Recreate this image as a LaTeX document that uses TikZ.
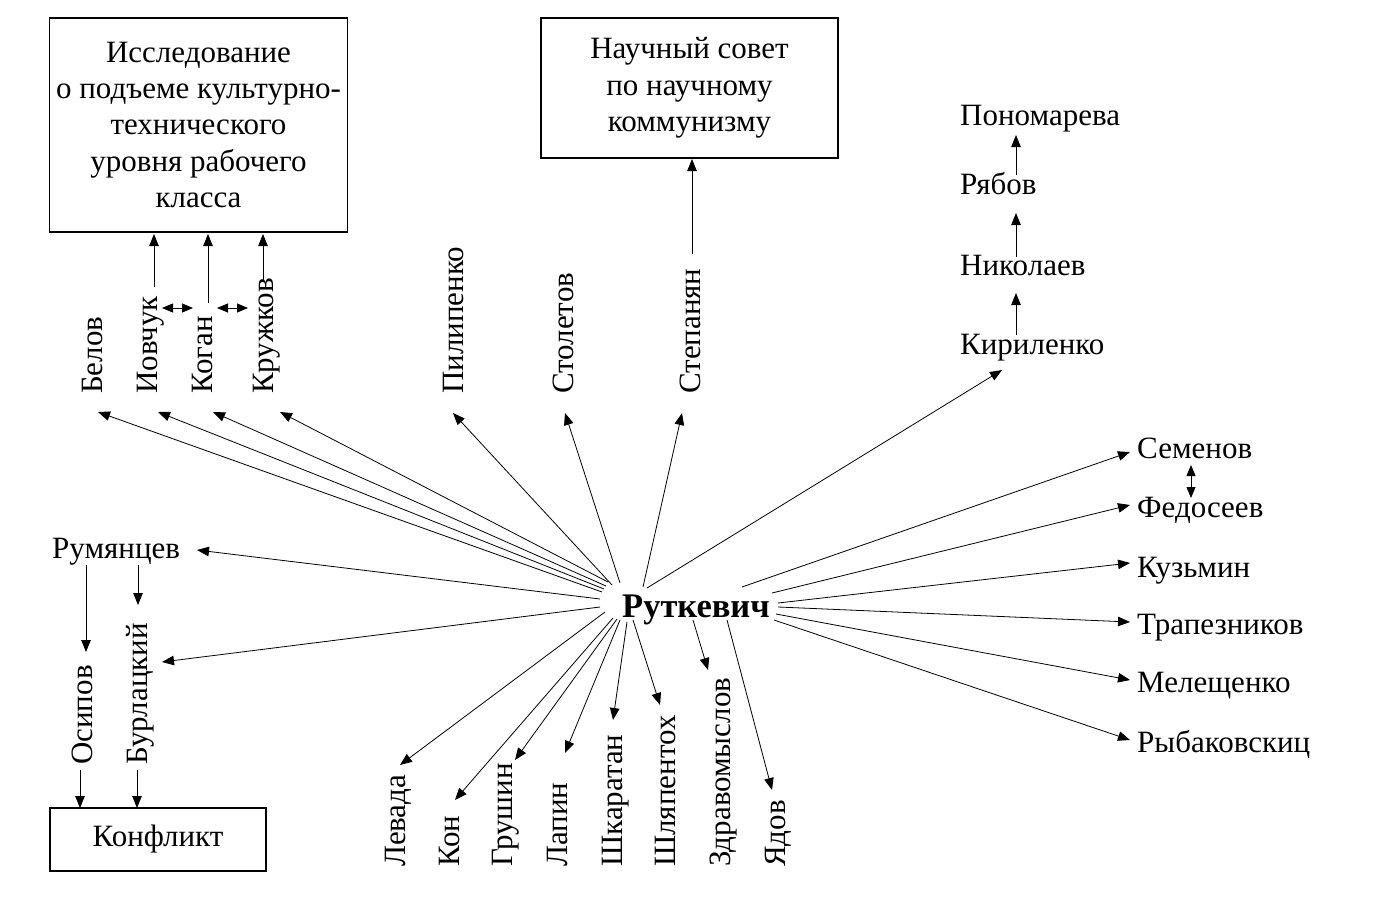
\documentclass[tikz,border=0pt]{standalone}
\usepackage{fontspec}
\setmainfont{Liberation Serif}
\usetikzlibrary{arrows.meta}
\newcommand\fs{\fontsize{31}{36.3}\selectfont}
\newcommand\fb{\fontsize{34.5}{40}\selectfont\bfseries}
\begin{document}
\begin{tikzpicture}[x=1pt,y=-1pt,
  box/.style={draw,line width=1.1pt,align=center,font=\fs,inner sep=0pt},
  lbl/.style={inner sep=0pt,font=\fs,anchor=base west},
  vlbl/.style={lbl,rotate=90},
  arr/.style={line width=0.8pt,-{Triangle[length=12pt,width=9.5pt]}},
  darr/.style={line width=0.8pt,{Triangle[length=11pt,width=9pt]}-{Triangle[length=11pt,width=9pt]}}]
\useasboundingbox (0,0) rectangle (1381,907);
\fill[white] (0,0) rectangle (1381,907);
% boxes
\node[box,minimum width=298pt,minimum height=214pt] (b1) at (198.5,125) {Исследование\\о подъеме культурно-\\технического\\уровня рабочего\\класса};
\node[box,minimum width=297pt,minimum height=140pt] (b2) at (689.5,88) {Научный совет\\по научному\\коммунизму};
\node[box,minimum width=216pt,minimum height=63pt] (b3) at (158,839.5) {Конфликт};
% center
\node[inner sep=0pt,font=\fb,anchor=base west] (rut) at (622,617) {Руткевич};
% horizontal labels
\node[lbl] (rum) at (52,558) {Румянцев};
\node[lbl] (sem) at (1137,458) {Семенов};
\node[lbl] (fed) at (1137,517) {Федосеев};
\node[lbl] (kuz) at (1137,577) {Кузьмин};
\node[lbl] (tra) at (1137,634) {Трапезников};
\node[lbl] (mel) at (1137,692) {Мелещенко};
\node[lbl] (ryb) at (1137,752) {Рыбаковскиц};
\node[lbl] (pon) at (960,125) {Пономарева};
\node[lbl] (rya) at (960,194) {Рябов};
\node[lbl] (nik) at (960,275) {Николаев};
\node[lbl] (kir) at (960,354) {Кириленко};
% rotated labels top
\node[vlbl] (bel) at (102,394) {Белов};
\node[vlbl] (iov) at (157,394) {Иовчук};
\node[vlbl] (kog) at (212,394) {Коган};
\node[vlbl] (kru) at (273,394) {Кружков};
\node[vlbl] (pil) at (463,394) {Пилипенко};
\node[vlbl] (sto) at (573,394) {Столетов};
\node[vlbl] (ste) at (700,394) {Степанян};
% rotated labels left
\node[vlbl] (osi) at (92,765) {Осипов};
\node[vlbl] (bur) at (147,765) {Бурлацкий};
% rotated labels bottom
\node[vlbl] (lev) at (405,867) {Левада};
\node[vlbl] (kon) at (459,867) {Кон};
\node[vlbl] (gru) at (512,867) {Грушин};
\node[vlbl] (lap) at (567,867) {Лапин};
\node[vlbl] (shk) at (622,867) {Шкаратан};
\node[vlbl] (shl) at (675,867) {Шляпентох};
\node[vlbl] (zdr) at (730,867) {Здравомыслов};
\node[vlbl] (yad) at (785,867) {Ядов};
% coordinates: start points near Руткевич and tips
\coordinate (sBel) at (602,592); \coordinate (tBel) at (98,412);
\coordinate (sIov) at (604,589); \coordinate (tIov) at (158,412);
\coordinate (sKog) at (606,586); \coordinate (tKog) at (213,412);
\coordinate (sKru) at (608,582); \coordinate (tKru) at (280,412);
\coordinate (sPil) at (612,585); \coordinate (tPil) at (453,413);
\coordinate (sSto) at (620,583); \coordinate (tSto) at (565,413);
\coordinate (sSte) at (643,587); \coordinate (tSte) at (682,413);
\coordinate (sKir) at (647,588); \coordinate (tKir) at (1002,370);
\coordinate (sRum) at (600,599); \coordinate (tRum) at (197,550);
\coordinate (sBur) at (600,607); \coordinate (tBur) at (162,662);
\coordinate (sLev) at (605,612); \coordinate (tLev) at (400,765);
\coordinate (sKon) at (613,618); \coordinate (tKon) at (455,800);
\coordinate (sGru) at (617,619); \coordinate (tGru) at (515,760);
\coordinate (sLap) at (620,620); \coordinate (tLap) at (565,753);
\coordinate (sShk) at (627,622); \coordinate (tShk) at (613,720);
\coordinate (sShl) at (633,620); \coordinate (tShl) at (660,705);
\coordinate (sZdr) at (693,620); \coordinate (tZdr) at (708,670);
\coordinate (sYad) at (727,620); \coordinate (tYad) at (772,790);
\coordinate (sSem) at (742,587); \coordinate (tSem) at (1130,452);
\coordinate (sFed) at (772,593); \coordinate (tFed) at (1130,505);
\coordinate (sKuz) at (778,603); \coordinate (tKuz) at (1130,563);
\coordinate (sTra) at (778,607); \coordinate (tTra) at (1130,622);
\coordinate (sMel) at (776,614); \coordinate (tMel) at (1130,680);
\coordinate (sRyb) at (774,620); \coordinate (tRyb) at (1130,740);
% vertical / auxiliary coordinates
\coordinate (iovA) at (154,287); \coordinate (iovB) at (154,234);
\coordinate (kogA) at (208,303); \coordinate (kogB) at (208,234);
\coordinate (kruA) at (263,280); \coordinate (kruB) at (263,234);
\coordinate (steA) at (692,254); \coordinate (steB) at (692,159);
\coordinate (k1A) at (1016,335); \coordinate (k1B) at (1016,293);
\coordinate (k2A) at (1016,257); \coordinate (k2B) at (1016,213);
\coordinate (k3A) at (1016,175); \coordinate (k3B) at (1016,135);
\coordinate (r1A) at (86,565); \coordinate (r1B) at (86,652);
\coordinate (r2A) at (138,565); \coordinate (r2B) at (138,605);
\coordinate (o1A) at (80,770); \coordinate (o1B) at (80,808);
\coordinate (o2A) at (137,770); \coordinate (o2B) at (137,808);
\coordinate (d1A) at (162,308); \coordinate (d1B) at (193,308);
\coordinate (d2A) at (217,308); \coordinate (d2B) at (248,308);
\coordinate (d3A) at (1191,465); \coordinate (d3B) at (1191,498);
% fan arrows
\foreach \n in {Bel,Iov,Kog,Kru,Pil,Sto,Ste,Kir,Rum,Bur,Lev,Kon,Gru,Lap,Shk,Shl,Zdr,Yad,Sem,Fed,Kuz,Tra,Mel,Ryb}
  \draw[arr] (s\n) -- (t\n);
% other arrows
\foreach \n in {iov,kog,kru,ste,k1,k2,k3,r1,r2,o1,o2}
  \draw[arr] (\n A) -- (\n B);
\foreach \n in {d1,d2,d3}
  \draw[darr] (\n A) -- (\n B);
\end{tikzpicture}
\end{document}
